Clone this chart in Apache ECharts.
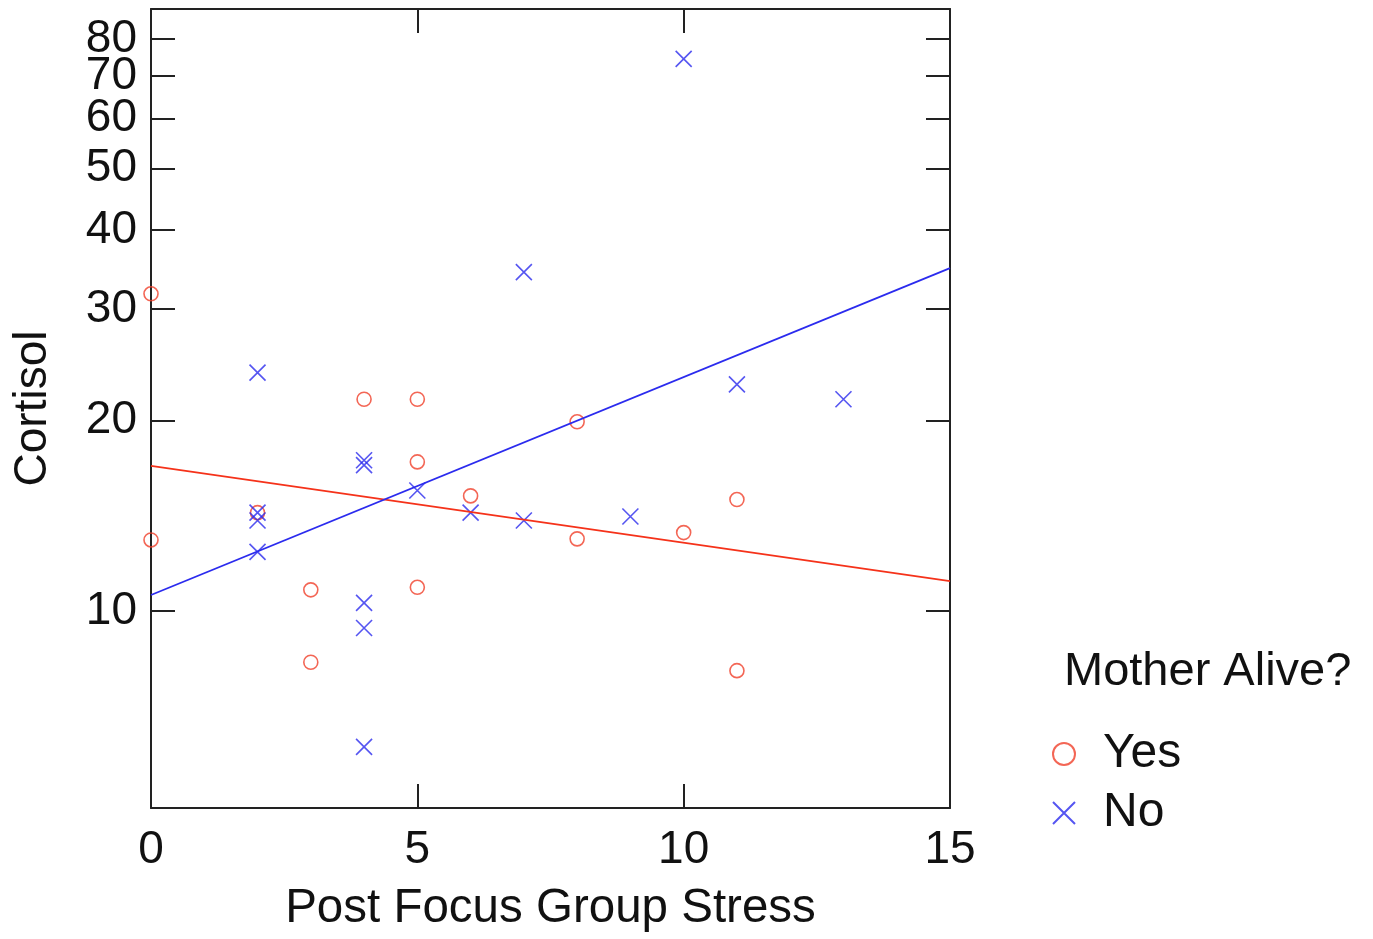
<!DOCTYPE html>
<html>
<head>
<meta charset="utf-8">
<script src="https://cdn.jsdelivr.net/npm/echarts@6/dist/echarts.min.js"></script>
<style>html,body{margin:0;padding:0;background:#fff}#c{width:1373px;height:939px}</style>
</head>
<body>
<div id="c"></div>
<script>
// ---- data ----
const yesX = [0, 0, 2, 3, 3, 4, 5, 5, 5, 6, 8, 8, 10, 11, 11];
const yesY = [31.7, 12.95, 14.3, 10.8, 8.3, 21.6, 21.6, 17.2, 10.9, 15.2, 19.9, 13.0, 13.3, 15.0, 8.05];
const noX = [2, 2, 2, 2, 4, 4, 4, 4, 4, 5, 6, 7, 7, 9, 10, 11, 13];
const noY = [23.8, 14.3, 13.9, 12.4, 17.3, 17.0, 10.3, 9.4, 6.1, 15.5, 14.3, 34.3, 13.9, 14.1, 74.5, 22.8, 21.6];
const fitX = [0, 15];
const yesFitY = [16.95, 11.15];
const noFitY = [10.6, 34.8];
const yTicks = [10, 20, 30, 40, 50, 60, 70, 80];
const xTicks = [0, 5, 10, 15];
const groupNames = ['Yes', 'No'];
const legendTitle = 'Mother Alive?';
const xName = 'Post Focus Group Stress';
const yName = 'Cortisol';

const pair = (xs, ys) => xs.map((x, i) => [x, ys[i]]);
// labels split over two overlaid axes so none of the tightly packed ones get dropped
const yLabelsA = yTicks.filter((v, i) => i % 2 === 0); // 10,30,50,70
const yLabelsB = yTicks.filter((v, i) => i % 2 === 1); // 20,40,60,80
const FONT = "'Liberation Sans', Arial, sans-serif";
const FS = 46;
const RED = '#f0402a', BLUE = '#2b2bee', AX = '#222';
const CROSS = 'path://M0,0L10,10M10,0L0,10';
const YMIN = 4.885, YMAX = 89.3;

const axisCommon = {
  axisLine: { show: true, onZero: false, lineStyle: { color: AX, width: 2 } },
  axisTick: { show: true, inside: true, length: 24, lineStyle: { color: AX, width: 2 } },
  splitLine: { show: false }
};
const yLabelStyle = { fontFamily: FONT, fontSize: FS, color: '#111', margin: 14,
  hideOverlap: false, showMinLabel: true, showMaxLabel: true,
  formatter: v => String(Math.round(v)) };

const chart = echarts.init(document.getElementById('c'), null, { renderer: 'canvas' });
chart.setOption({
  animation: false,
  backgroundColor: '#fff',
  textStyle: { fontFamily: FONT },
  grid: { left: 151, right: 423, top: 9, bottom: 131, containLabel: false },
  title: {
    text: legendTitle, left: 1064, top: 649, padding: 0,
    textStyle: { fontFamily: FONT, fontSize: 47, fontWeight: 'normal', color: '#111' }
  },
  legend: {
    data: groupNames, orient: 'vertical', left: 1052, top: 730, padding: 0,
    itemWidth: 60, itemHeight: 22, itemGap: 11,
    textStyle: { fontFamily: FONT, fontSize: 48, color: '#111', padding: [0, 0, 0, 4] }
  },
  xAxis: [
    Object.assign({}, axisCommon, {
      type: 'value', min: 0, max: 15, interval: 5, position: 'bottom',
      name: xName, nameLocation: 'middle', nameGap: 77,
      nameTextStyle: { fontFamily: FONT, fontSize: 47.5, color: '#111' },
      axisLabel: { fontFamily: FONT, fontSize: FS, color: '#111', margin: 19,
        customValues: xTicks, hideOverlap: false, showMinLabel: true, showMaxLabel: true },
      axisTick: Object.assign({}, axisCommon.axisTick, { customValues: xTicks })
    }),
    Object.assign({}, axisCommon, {
      type: 'value', min: 0, max: 15, interval: 5, position: 'top',
      axisLabel: { show: false }
    })
  ],
  yAxis: [
    Object.assign({}, axisCommon, {
      type: 'log', logBase: 10, min: YMIN, max: YMAX, position: 'left',
      name: yName, nameLocation: 'middle', nameGap: 95,
      nameTextStyle: { fontFamily: FONT, fontSize: FS, color: '#111' },
      axisLabel: Object.assign({}, yLabelStyle, { customValues: yLabelsA }),
      axisTick: Object.assign({}, axisCommon.axisTick, { customValues: yTicks })
    }),
    Object.assign({}, axisCommon, {
      type: 'log', logBase: 10, min: YMIN, max: YMAX, position: 'right',
      axisLabel: { show: false, customValues: yTicks },
      axisTick: Object.assign({}, axisCommon.axisTick, { customValues: yTicks })
    }),
    {
      type: 'log', logBase: 10, min: YMIN, max: YMAX, position: 'left', offset: 0,
      axisLine: { show: false }, axisTick: { show: false }, splitLine: { show: false },
      axisLabel: Object.assign({}, yLabelStyle, { customValues: yLabelsB })
    }
  ],
  series: [
    {
      name: 'Yes', type: 'scatter', data: pair(yesX, yesY),
      symbol: 'circle', symbolSize: 14,
      itemStyle: { color: 'rgba(0,0,0,0)', borderColor: RED, borderWidth: 1.6 },
      z: 3
    },
    {
      name: 'No', type: 'scatter', data: pair(noX, noY),
      symbol: CROSS, symbolSize: 16,
      itemStyle: { color: 'rgba(0,0,0,0)', borderColor: BLUE, borderWidth: 1.6 },
      z: 3
    },
    {
      name: 'Yes fit', type: 'line', data: pair(fitX, yesFitY),
      symbol: 'none', lineStyle: { color: '#f5321a', width: 1.8 }, z: 4
    },
    {
      name: 'No fit', type: 'line', data: pair(fitX, noFitY),
      symbol: 'none', lineStyle: { color: BLUE, width: 1.8 }, z: 4
    }
  ]
});
</script>
</body>
</html>
